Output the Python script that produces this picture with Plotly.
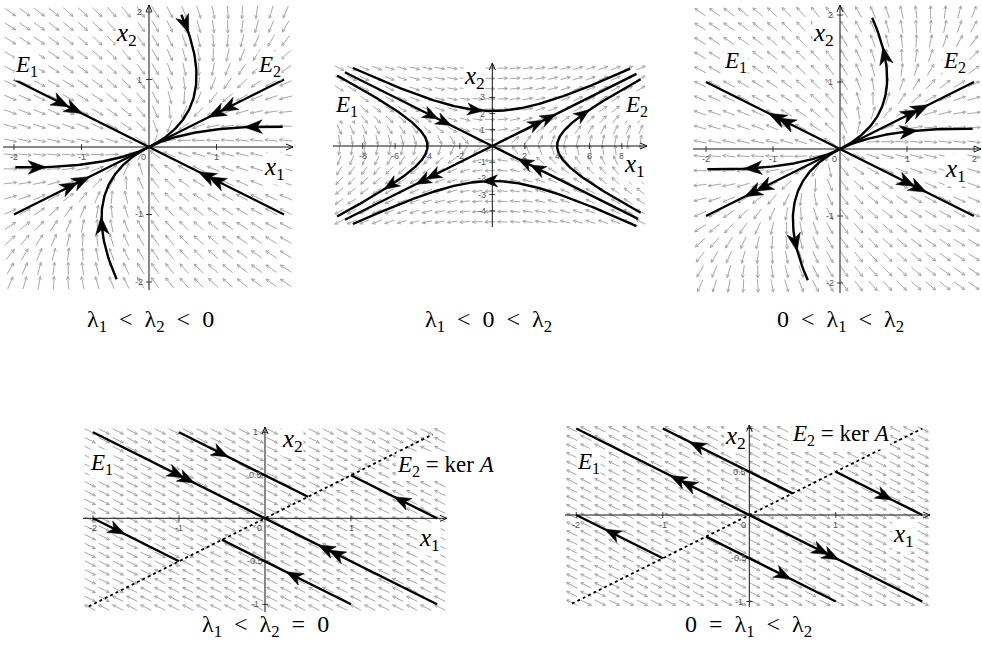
import numpy as np
import plotly.graph_objects as go

W, H = 982, 663

# ---------------- data ----------------
# eigenvectors: E1 spanned by V1, E2 spanned by V2
V1 = [2.0, -1.0]
V2 = [2.0, 1.0]

# eigenvalues used for each portrait (value on E1, value on E2)
LAM_P1 = [-2.0, -1.0]   # lambda1 < lambda2 < 0
LAM_P2 = [-1.0, 1.0]    # lambda1 < 0 < lambda2
LAM_P3 = [2.0, 1.0]     # 0 < lambda1 < lambda2
LAM_P4 = [-1.0, 0.0]    # lambda1 < lambda2 = 0
LAM_P5 = [1.0, 0.0]     # 0 = lambda1 < lambda2

# node portraits (panels 1 and 3): outer end points of the trajectories
NODE_X0 = [[-2.0, 1.0], [2.0, -1.0], [2.0, 1.0], [-2.0, -1.0],
           [0.48, 1.96], [1.98, 0.30], [-1.98, -0.30], [-0.48, -1.96]]
P1_T = [0.0, 8.0]
P3_T = [-8.0, 0.0]

# saddle portrait (panel 2): point at t=0 and time span of each trajectory
P2_X0 = [[4.0, 0.0], [-4.0, 0.0], [0.0, 2.16], [0.0, -2.16],
         [-9.1, 4.55], [9.0, -4.5], [8.9, 4.45], [-9.1, -4.55]]
P2_T0 = [-1.47, -1.52, -1.44, -1.47, 0.0, 0.0, -8.0, -8.0]
P2_T1 = [1.47, 1.52, 1.43, 1.44, 8.0, 8.0, 0.0, 0.0]

# degenerate portraits (panels 4 and 5): straight trajectories
SEG_START = [[-2.0, 1.0], [-1.0, 1.0], [1.0, 0.5], [-2.0, 0.0], [-0.5, -0.25]]
SEG_END = [[2.0, -1.0], [0.5, 0.25], [2.0, 0.0], [-1.0, -0.5], [1.0, -1.0]]
KER_P4 = [[-2.05, -1.025], [1.95, 0.975]]
KER_P5 = [[-2.05, -1.025], [2.0, 1.0]]

# positions of arrow heads on the trajectories (approximate, snapped to curves)
ARR_P1 = [[-1.29, 0.645], [-1.12, 0.56], [0.83, -0.415], [1.0, -0.5],
          [1.0, 0.5], [1.17, 0.585], [-1.18, -0.59], [-1.0, -0.5],
          [0.53, 1.81], [1.55, 0.30], [-1.64, -0.30], [-0.70, -1.18]]
ARR_P2 = [[-3.74, 1.87], [-2.92, 1.46], [-1.07, 2.2], [2.74, 1.37], [3.46, 1.73],
          [5.6, 1.96], [2.0, -1.0], [2.74, -1.37], [-0.15, -2.16],
          [-4.26, -2.13], [-3.64, -1.82], [-6.3, -2.43]]
ARR_P3 = [[-0.97, 0.485], [-0.80, 0.40], [1.02, -0.51], [1.19, -0.595],
          [1.05, 0.525], [1.20, 0.60], [-1.30, -0.65], [-1.15, -0.575],
          [0.72, 1.38], [1.03, 0.26], [-1.28, -0.285], [-0.70, -1.38]]
ARR_P4 = [[-1.03, 0.515], [-0.89, 0.445], [0.72, -0.36], [0.83, -0.415],
          [-0.52, 0.76], [1.59, 0.205], [-1.72, -0.14], [0.33, -0.665]]
ARR_P5 = [[-0.84, 0.42], [-0.70, 0.35], [0.82, -0.41], [0.95, -0.475],
          [-0.61, 0.805], [1.57, 0.215], [-1.59, -0.205], [0.39, -0.695]]

# tick labels
P1_XT = [-2, -1, 1]
P1_YT = [-2, -1, 1, 2]
P2_XT = [-8, -6, -4, -2, 2, 4, 6, 8]
P2_YT = [-4, -3, -2, -1, 1, 2, 3]
P3_XT = [-2, -1, 1, 2]
P3_YT = [-2, -1, 1, 2]
P45_XT = [-2, -1, 1]
P45_YT = [-1, -0.5, 0.5, 1]
SHOW_ZERO = [True, False, True, True, True]

CAPTIONS = ["λ<sub>1</sub>&nbsp; &lt; &nbsp;λ<sub>2</sub>&nbsp; &lt; &nbsp;0",
            "λ<sub>1</sub>&nbsp; &lt; &nbsp;0&nbsp; &lt; &nbsp;λ<sub>2</sub>",
            "0&nbsp; &lt; &nbsp;λ<sub>1</sub>&nbsp; &lt; &nbsp;λ<sub>2</sub>",
            "λ<sub>1</sub>&nbsp; &lt; &nbsp;λ<sub>2</sub>&nbsp; = &nbsp;0",
            "0&nbsp; = &nbsp;λ<sub>1</sub>&nbsp; &lt; &nbsp;λ<sub>2</sub>"]

# ---------------- helpers ----------------
P = np.array([V1, V2]).T
Pinv = np.linalg.inv(P)


def mat(lams):
    return P @ np.diag(lams) @ Pinv


def traj(x0, lams, t0, t1, n=300):
    c = Pinv @ np.array(x0)
    t = np.linspace(t0, t1, n)
    pts = (np.outer(c[0] * np.exp(lams[0] * t), P[:, 0])
           + np.outer(c[1] * np.exp(lams[1] * t), P[:, 1]))
    return pts


fig = go.Figure()
layout = {}
annotations = []

# panel pixel geometry: box (L, T, R, B), origin (ox, oy), px per unit
PANELS = [
    dict(box=(3, 5, 293, 290), o=(149, 147), k=67.5),
    dict(box=(333, 63, 647, 227), o=(492.3, 146), k=16.2),
    dict(box=(693, 5, 981, 293), o=(840, 149), k=67.0),
    dict(box=(83, 427, 447, 612), o=(265, 518.3), k=86.0),
    dict(box=(565, 425, 930, 607), o=(749.3, 515), k=86.5),
]

for i, pn in enumerate(PANELS):
    L, T, R, B = pn["box"]
    ox, oy = pn["o"]
    k = pn["k"]
    pn["xr"] = [(L - ox) / k, (R - ox) / k]
    pn["yr"] = [(oy - B) / k, (oy - T) / k]
    sfx = "" if i == 0 else str(i + 1)
    pn["xa"] = "x" + sfx
    pn["ya"] = "y" + sfx
    layout["xaxis" + sfx] = dict(domain=[L / W, R / W], range=pn["xr"], visible=False,
                                 fixedrange=True, anchor="y" + sfx)
    layout["yaxis" + sfx] = dict(domain=[1 - B / H, 1 - T / H], range=pn["yr"], visible=False,
                                 fixedrange=True, anchor="x" + sfx)

LAMS = [LAM_P1, LAM_P2, LAM_P3, LAM_P4, LAM_P5]
GRID = [(20, 20), (25, 16), (20, 20), (26, 21), (26, 21)]
FLEN = [13, 10, 13, 12, 12]


def add(x, y, pn, **kw):
    fig.add_trace(go.Scatter(x=x, y=y, xaxis=pn["xa"], yaxis=pn["ya"],
                             showlegend=False, hoverinfo="skip", **kw))


def lab(text, px, py, size=20, bg="white", family="Liberation Serif", color="black"):
    annotations.append(dict(text=text, x=px / W, y=1 - py / H, xref="paper", yref="paper",
                            showarrow=False, xanchor="center", yanchor="middle",
                            font=dict(family=family, size=size, color=color),
                            bgcolor=bg, borderpad=0))


# ---- direction fields ----
for i, pn in enumerate(PANELS):
    A = mat(LAMS[i])
    k = pn["k"]
    nx, ny = GRID[i]
    xr, yr = pn["xr"], pn["yr"]
    xs = xr[0] + (np.arange(nx) + 0.5) * (xr[1] - xr[0]) / nx
    ys = yr[0] + (np.arange(ny) + 0.5) * (yr[1] - yr[0]) / ny
    h = FLEN[i] / 2 / k
    hb = 3.5 / k
    fx, fy = [], []
    for X in xs:
        for Y in ys:
            d = A @ np.array([X, Y])
            nd = np.hypot(*d)
            if nd < 1e-9:
                continue
            u = d / nd
            tail = np.array([X, Y]) - u * h
            tip = np.array([X, Y]) + u * h
            fx += [tail[0], tip[0], None]
            fy += [tail[1], tip[1], None]
            for ang in (0.45, -0.45):
                c, s = np.cos(ang), np.sin(ang)
                r = np.array([-u[0] * c + u[1] * s, -u[0] * s - u[1] * c])
                fx += [tip[0], tip[0] + r[0] * hb, None]
                fy += [tip[1], tip[1] + r[1] * hb, None]
    add(fx, fy, pn, mode="lines", line=dict(color="#a8a8a8", width=1))

# ---- axes, tick marks, tick labels ----
TICKS = [(P1_XT, P1_YT), (P2_XT, P2_YT), (P3_XT, P3_YT), (P45_XT, P45_YT), (P45_XT, P45_YT)]
for i, pn in enumerate(PANELS):
    k = pn["k"]
    ox, oy = pn["o"]
    xt, yt = TICKS[i]
    for v in xt:
        lab(str(v), ox + v * k, oy + 10, 9, bg="rgba(0,0,0,0)", family="Liberation Sans", color="#555555")
    if SHOW_ZERO[i]:
        lab("0", ox - 6, oy + 10, 9, bg="rgba(0,0,0,0)", family="Liberation Sans", color="#555555")
    for v in yt:
        lab("%g" % v, ox - 10, oy - v * k, 9, bg="rgba(0,0,0,0)", family="Liberation Sans", color="#555555")
    mx, my = [], []
    for v in xt:
        mx += [v, v, None]
        my += [-3 / k, 3 / k, None]
    for v in yt:
        mx += [-3 / k, 3 / k, None]
        my += [v, v, None]
    add(mx, my, pn, mode="lines", line=dict(color="#444444", width=1))
    xr, yr = pn["xr"], pn["yr"]
    ax_x = [xr[0], xr[1], None, 0, 0, None]
    ax_y = [0, 0, None, yr[0], yr[1], None]
    a = 7 / k
    b = 3 / k
    ax_x += [xr[1] - a, xr[1], xr[1] - a, None, -b, 0, b, None]
    ax_y += [b, 0, -b, None, yr[1] - a, yr[1], yr[1] - a, None]
    add(ax_x, ax_y, pn, mode="lines", line=dict(color="#111111", width=1))

# ---- trajectories ----
curves = [[] for _ in PANELS]
for x0 in NODE_X0:
    curves[0].append(traj(x0, LAM_P1, P1_T[0], P1_T[1]))
    curves[2].append(traj(x0, LAM_P3, P3_T[0], P3_T[1]))
for x0, t0, t1 in zip(P2_X0, P2_T0, P2_T1):
    curves[1].append(traj(x0, LAM_P2, t0, t1))
for s, e in zip(SEG_START, SEG_END):
    seg = np.linspace(s, e, 100)
    curves[3].append(seg)
    curves[4].append(seg)

for i, pn in enumerate(PANELS):
    cx, cy = [], []
    for c in curves[i]:
        cx += list(c[:, 0]) + [None]
        cy += list(c[:, 1]) + [None]
    add(cx, cy, pn, mode="lines", line=dict(color="black", width=2.4))

for pn, ker in ((PANELS[3], KER_P4), (PANELS[4], KER_P5)):
    add([ker[0][0], ker[1][0]], [ker[0][1], ker[1][1]], pn, mode="lines",
        line=dict(color="black", width=1.8, dash="dot"))

# ---- arrow heads on trajectories (filled stealth-shaped polygons) ----
ARRS = [ARR_P1, ARR_P2, ARR_P3, ARR_P4, ARR_P5]
HEAD_LEN = [18, 16, 18, 17, 17]
for i, pn in enumerate(PANELS):
    A = mat(LAMS[i])
    k = pn["k"]
    allpts = np.vstack(curves[i])
    px_, py_ = [], []
    L = HEAD_LEN[i]
    for p in ARRS[i]:
        j = np.argmin(np.hypot(allpts[:, 0] - p[0], allpts[:, 1] - p[1]))
        q = allpts[j]
        d = A @ q
        u = d / np.hypot(*d)
        n = np.array([-u[1], u[0]])
        tip = q + u * (0.5 * L / k)
        back = q - u * (0.5 * L / k)
        notch = q - u * (0.22 * L / k)
        left = back + n * (0.38 * L / k)
        right = back - n * (0.38 * L / k)
        for pt in (tip, left, notch, right, tip):
            px_.append(pt[0])
            py_.append(pt[1])
        px_.append(None)
        py_.append(None)
    add(px_, py_, pn, mode="lines", fill="toself", fillcolor="black",
        line=dict(color="black", width=0.5))

# ---- text labels (pixel positions) ----
E1 = "<i>E</i><sub>1</sub>"
E2 = "<i>E</i><sub>2</sub>"
X1 = "<i>x</i><sub>1</sub>"
X2 = "<i>x</i><sub>2</sub>"
KER = "<i>E</i><sub>2</sub> = ker <i>A</i>"

lab(E1, 26, 66, 23); lab(E2, 269, 66, 23); lab(X2, 126, 34, 25); lab(X1, 274, 168, 25)
lab(E1, 346, 106, 23); lab(E2, 636, 106, 23); lab(X2, 474, 77, 25); lab(X1, 634, 165, 25)
lab(E1, 735, 62, 23); lab(E2, 954, 62, 23); lab(X2, 823, 34, 25); lab(X1, 955, 171, 25)
lab(E1, 101, 464, 23); lab(KER, 446, 466, 23); lab(X2, 292, 440, 25); lab(X1, 429, 539, 25)
lab(E1, 588, 463, 23); lab(KER, 841, 435, 23); lab(X2, 735, 437, 25); lab(X1, 903, 535, 25)

CAP_POS = [(150, 321), (488, 321), (840, 321), (265, 626), (748, 626)]
for txt, (px, py) in zip(CAPTIONS, CAP_POS):
    lab(txt, px, py, 24, bg="rgba(0,0,0,0)")

fig.update_layout(width=W, height=H, autosize=False,
                  margin=dict(l=0, r=0, t=0, b=0),
                  paper_bgcolor="white", plot_bgcolor="white",
                  annotations=annotations, **layout)

fig.write_html("out.html", config={"displayModeBar": False, "staticPlot": True},
               post_script="document.body.style.margin='0px';")
